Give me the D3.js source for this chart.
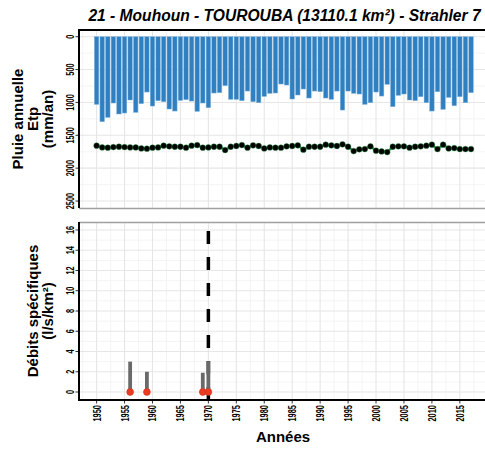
<!DOCTYPE html>
<html>
<head>
<meta charset="utf-8">
<script src="https://cdn.jsdelivr.net/npm/d3@7"></script>
<style>
  body { margin: 0; background: #fff; }
  svg { display: block; font-family: "Liberation Sans", Arial, sans-serif; }
</style>
</head>
<body>
<svg id="chart" width="485" height="450"></svg>
<script>
// years 1950 -> 2017
const years = d3.range(1950, 2018);

// annual rainfall (mm/an)
const pluie = [1029, 1293, 1227, 1009, 1176, 1161, 963, 1151, 1019, 842,
  1055, 974, 989, 1100, 1131, 969, 958, 979, 1136, 1009,
  1080, 857, 852, 745, 953, 953, 974, 827, 989, 1004,
  908, 862, 857, 720, 735, 948, 887, 796, 933, 827,
  837, 933, 953, 827, 1116, 827, 862, 872, 1029, 1004,
  842, 903, 725, 1065, 892, 872, 963, 974, 913, 1004,
  1131, 837, 1105, 923, 1050, 913, 1004, 852];

// Etp (mm/an)
const etp = [1658, 1684, 1689, 1679, 1674, 1679, 1684, 1684, 1699, 1704,
  1689, 1684, 1658, 1668, 1674, 1674, 1689, 1658, 1648, 1689,
  1684, 1674, 1674, 1724, 1674, 1663, 1648, 1689, 1653, 1663,
  1699, 1684, 1689, 1689, 1668, 1663, 1653, 1719, 1674, 1674,
  1674, 1643, 1653, 1663, 1638, 1674, 1740, 1714, 1709, 1668,
  1734, 1745, 1755, 1674, 1668, 1668, 1689, 1674, 1668, 1658,
  1643, 1709, 1643, 1699, 1694, 1709, 1709, 1709];

// specific discharge (l/s/km²)
const qYears = [1956, 1959, 1969, 1970];
const qMin = [0, 0, 0, 0];
const qMax = [3.0, 2.0, 1.9, 3.05];
const breakYear = 1970;

const xTicks = d3.range(1950, 2016, 5);
const pluieTicks = [0, 500, 1000, 1500, 2000, 2500];
const qTicks = [0, 2, 4, 6, 8, 10, 12, 14, 16];

const titre = "21 - Mouhoun - TOUROUBA (13110.1 km²) - Strahler 7";

const svg = d3.select("#chart");
const left = 79, right = 485;

const x = d3.scaleLinear().domain([1946.85, 2019.5]).range([left, right]);
const yTop = d3.scaleLinear().domain([-102, 2606]).range([30, 208]);
const yBot = d3.scaleLinear().domain([-0.79, 16.79]).range([400, 222]);

const xMinor = d3.range(1947.5, 2019, 5);

function panel(y, majors, minors) {
  const g = svg.append("g");
  const [y0, y1] = y.range();
  // minor grid
  g.selectAll(".vmin").data(xMinor).enter().append("line")
    .attr("x1", d => x(d)).attr("x2", d => x(d))
    .attr("y1", y1).attr("y2", y0)
    .style("stroke", "#f1f1f1").style("stroke-width", 0.8);
  g.selectAll(".hmin").data(minors).enter().append("line")
    .attr("x1", left).attr("x2", right)
    .attr("y1", d => y(d)).attr("y2", d => y(d))
    .style("stroke", "#f1f1f1").style("stroke-width", 0.8);
  // major grid
  g.selectAll(".vmaj").data(xTicks).enter().append("line")
    .attr("x1", d => x(d)).attr("x2", d => x(d))
    .attr("y1", y1).attr("y2", y0)
    .style("stroke", "#e6e6e6").style("stroke-width", 1.1);
  g.selectAll(".hmaj").data(majors).enter().append("line")
    .attr("x1", left).attr("x2", right)
    .attr("y1", d => y(d)).attr("y2", d => y(d))
    .style("stroke", "#e6e6e6").style("stroke-width", 1.1);
  // top border
  g.append("line").attr("x1", left).attr("x2", right)
    .attr("y1", y1 + 0.5).attr("y2", y1 + 0.5)
    .style("stroke", "#a0a0a0").style("stroke-width", 1.5);
  return g;
}

function yAxisLabels(y, ticks) {
  const g = svg.append("g");
  g.selectAll("text").data(ticks).enter().append("text")
    .attr("transform", d => "translate(74.3," + y(d) + ") rotate(-90)")
    .attr("text-anchor", "middle")
    .attr("textLength", d => String(d).length * 4.1)
    .attr("lengthAdjust", "spacingAndGlyphs")
    .style("font-size", "11px").style("font-weight", "bold").style("fill", "#000")
    .text(d => d);
  g.selectAll("line").data(ticks).enter().append("line")
    .attr("x1", 75.5).attr("x2", 78)
    .attr("y1", d => y(d)).attr("y2", d => y(d))
    .style("stroke", "#333").style("stroke-width", 1);
}

function axisLines(y) {
  const [y0, y1] = y.range();
  svg.append("line").attr("x1", left).attr("x2", left)
    .attr("y1", y1).attr("y2", y0 + 1)
    .style("stroke", "#000").style("stroke-width", 2);
  svg.append("line").attr("x1", left - 1).attr("x2", right)
    .attr("y1", y0).attr("y2", y0)
    .style("stroke", "#000").style("stroke-width", 2);
}

// ---- top panel: pluie + etp
const topG = panel(yTop, pluieTicks, d3.range(250, 2500, 500));
const bw = (x(1951) - x(1950)) * 0.8;

topG.selectAll("rect.pluie").data(years).enter().append("rect")
  .attr("class", "pluie")
  .attr("x", d => x(d) - bw / 2)
  .attr("y", yTop(0))
  .attr("width", bw)
  .attr("height", (d, i) => yTop(pluie[i]) - yTop(0))
  .style("fill", "#2f7fc1")
  .style("stroke", "#7fb3dc").style("stroke-width", 0.5);

const etpLine = d3.line().x((d, i) => x(years[i])).y(d => yTop(d));
topG.append("path").datum(etp)
  .attr("d", etpLine)
  .style("fill", "none").style("stroke", "#1f9a3e").style("stroke-width", 2.2);
topG.selectAll("circle").data(etp).enter().append("circle")
  .attr("cx", (d, i) => x(years[i]))
  .attr("cy", d => yTop(d))
  .attr("r", 2.9)
  .style("fill", "#000")
  .style("stroke", "#1f9a3e").style("stroke-width", 0.4);

axisLines(yTop);
yAxisLabels(yTop, pluieTicks);

// ---- bottom panel: debits
const botG = panel(yBot, qTicks, d3.range(1, 16, 2));

botG.append("line")
  .attr("x1", x(breakYear)).attr("x2", x(breakYear))
  .attr("y1", yBot.range()[0]).attr("y2", yBot.range()[1])
  .style("stroke", "#000").style("stroke-width", 3.5)
  .style("stroke-dasharray", "13,13");

botG.selectAll("line.q").data(qYears).enter().append("line")
  .attr("class", "q")
  .attr("x1", d => x(d)).attr("x2", d => x(d))
  .attr("y1", (d, i) => yBot(qMin[i]))
  .attr("y2", (d, i) => yBot(qMax[i]))
  .style("stroke", "#6a6a6a").style("stroke-width", 3.8);

botG.selectAll("circle").data(qYears).enter().append("circle")
  .attr("cx", d => x(d))
  .attr("cy", (d, i) => yBot(qMin[i]))
  .attr("r", 3.4)
  .style("fill", "#ec3b23").style("stroke", "#c9301c").style("stroke-width", 0.6);

axisLines(yBot);
yAxisLabels(yBot, qTicks);

// x tick labels (bottom only)
svg.selectAll("text.xt").data(xTicks).enter().append("text")
  .attr("class", "xt")
  .attr("transform", d => "translate(" + (x(d) + 4) + ",405) rotate(-90)")
  .attr("text-anchor", "end")
  .attr("textLength", 16.5)
  .attr("lengthAdjust", "spacingAndGlyphs")
  .style("font-size", "11px").style("font-weight", "bold").style("fill", "#000")
  .text(d => d);
svg.selectAll("line.xtk").data(xTicks).enter().append("line")
  .attr("class", "xtk")
  .attr("x1", d => x(d)).attr("x2", d => x(d))
  .attr("y1", 401).attr("y2", 403.5)
  .style("stroke", "#333").style("stroke-width", 1);

// titles
svg.append("text")
  .attr("x", 284.5).attr("y", 20.5)
  .attr("text-anchor", "middle")
  .style("font-size", "15.6px").style("font-weight", "bold").style("font-style", "italic")
  .text(titre);

svg.append("text")
  .attr("x", 283).attr("y", 442)
  .attr("text-anchor", "middle")
  .style("font-size", "15px").style("font-weight", "bold")
  .text("Années");

function yTitle(lines, cy) {
  const base = [23, 38, 53].slice(3 - lines.length);
  lines.forEach((t, i) => {
    svg.append("text")
      .attr("transform", "translate(" + base[i] + "," + cy + ") rotate(-90)")
      .attr("text-anchor", "middle")
      .style("font-size", "15px").style("font-weight", "bold")
      .text(t);
  });
}
yTitle(["Pluie annuelle", "Etp", "(mm/an)"], 119);
yTitle(["Débits spécifiques", "(l/s/km²)"], 311);
</script>
</body>
</html>
